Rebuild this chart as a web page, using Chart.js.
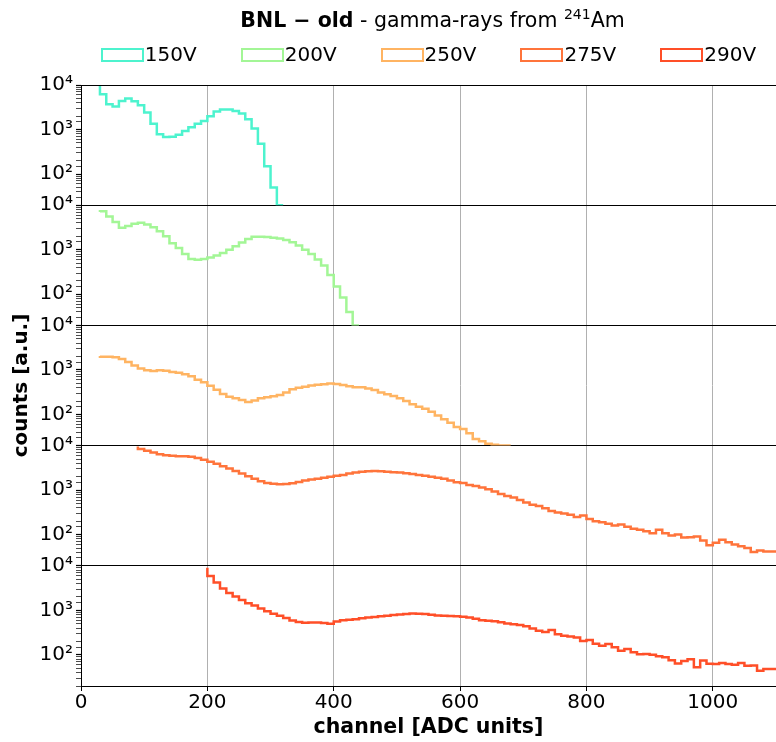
<!DOCTYPE html>
<html>
<head>
<meta charset="utf-8">
<script src="https://cdn.jsdelivr.net/npm/chart.js@4.4.1/dist/chart.umd.min.js"></script>
<style>
    body { margin: 0; background: #fff; }
    #wrap { position: relative; width: 776px; height: 742px; font-family: 'DejaVu Sans'; color: #000; }
    #histChart { display: block; }
    #title {
        position: absolute; top: 8px; left: 85px; width: 695px;
        text-align: center; font-size: 20.5px;
    }
    #title sup { font-size: 14px; line-height: 0; vertical-align: 8px; }
    #legend {
        position: absolute; top: 43px; left: 81px; width: 695px;
        display: flex; justify-content: center; gap: 44px; font-size: 20px;
    }
    #legend .item { display: flex; align-items: center; line-height: 23px; }
    #legend .swatch {
        box-sizing: border-box; width: 43px; height: 14px;
        border: 2.5px solid; margin-right: 1px;
    }
</style>
</head>
<body>
<div id="wrap">
    <div id="title"><b>BNL − old</b> - gamma-rays from <sup>241</sup>Am</div>
    <div id="legend"></div>
    <canvas id="histChart" width="776" height="742"></canvas>
</div>
<script>
// axis ranges
var binWidth = 10;
var xMin = 0, xMax = 1100;
var yMin = 20, yMax = 10000;
var xTicks = [0, 200, 400, 600, 800, 1000];
var yTickLabels = { 100: '10\u00b2', 1000: '10\u00b3', 10000: '10\u2074' };

var voltages = ['150V', '200V', '250V', '275V', '290V'];
var colors = ['rgb(77, 243, 206)', 'rgb(163, 246, 150)', 'rgb(255, 180, 98)', 'rgb(255, 116, 59)', 'rgb(255, 79, 40)'];

// spectra: first bin edge + counts per 10-channel bin
var start150 = 30;
var counts150 = [9500, 6200, 3700, 3300, 4400, 4950, 4300, 3500, 2400, 1350, 780, 680, 690, 760, 930, 1130,
    1350, 1550, 2000, 2550, 2800, 2800, 2600, 2300, 1700, 1050, 480, 150, 50];

var start200 = 30;
var counts200 = [7000, 7300, 5600, 4200, 3100, 3400, 3850, 4050, 3700, 3200, 2600, 2000, 1400, 1100, 800, 620,
    595, 620, 670, 740, 850, 1000, 1200, 1450, 1750, 1950, 1950, 1920, 1850, 1780, 1650, 1480, 1250, 1000,
    800, 600, 440, 270, 150, 85, 40];

var start250 = 30;
var counts250 = [2050, 1980, 1970, 1930, 1750, 1500, 1250, 1080, 990, 950, 980, 960, 900, 870, 800, 720,
    600, 530, 440, 360, 290, 250, 230, 210, 190, 205, 230, 245, 255, 275, 310, 370, 400, 420, 450, 465,
    480, 495, 485, 460, 430, 410, 410, 385, 355, 310, 285, 260, 230, 200, 170, 150, 135, 115, 95, 78,
    65, 52, 47, 38, 28, 25, 22, 21, 20];

var start275 = 90;
var counts275 = [9600, 8400, 7700, 7000, 6400, 6050, 5900, 5800, 5750, 5600,
    5300, 4800, 4350, 3900, 3450, 3050, 2700, 2350, 2050, 1800,
    1580, 1450, 1400, 1360, 1380, 1420, 1520, 1640, 1740, 1800,
    1900, 2000, 2100, 2200, 2350, 2500, 2600, 2650, 2680, 2650,
    2600, 2530, 2480, 2400, 2300, 2180, 2100, 2000, 1900, 1800,
    1650, 1500, 1450, 1300, 1240, 1150, 1050, 930, 820, 740,
    680, 600, 530, 470, 440, 390, 340, 315, 300, 280,
    250, 270, 225, 200, 190, 176, 161, 170, 150, 135,
    129, 120, 108, 129, 108, 96, 101, 86, 88, 91,
    74, 58, 66, 77, 68, 60, 55, 50, 41, 44, 42];

var start290 = 200;
var counts290 = [9000, 5900, 4200, 3100, 2450, 2050, 1700, 1450, 1280, 1100,
    950, 840, 760, 670, 590, 545, 525, 530, 535, 520,
    500, 560, 600, 615, 630, 660, 690, 710, 735, 760,
    790, 805, 830, 850, 835, 825, 800, 770, 760, 745,
    735, 720, 690, 650, 600, 585, 570, 540, 505, 485,
    470, 440, 390, 350, 325, 360, 290, 270, 257, 245,
    205, 215, 178, 161, 176, 148, 124, 136, 114, 103,
    105, 101, 93, 88, 76, 64, 73, 80, 53, 75,
    63, 62, 66, 62, 60, 66, 57, 58, 44, 48];

var starts = [start150, start200, start250, start275, start290];
var counts = [counts150, counts200, counts250, counts275, counts290];

// bin edges -> points for a stepped line, dropping to the floor if the spectrum ends inside the plot
function histPoints(start, values) {
    var pts = values.map(function (v, i) {
        return { x: start + i * binWidth, y: v };
    });
    var end = start + values.length * binWidth;
    pts.push({ x: end, y: end < xMax ? yMin : values[values.length - 1] });
    return pts;
}

function panelAxis(showTitle) {
    return {
        type: 'logarithmic',
        position: 'left',
        stack: 'panels',
        stackWeight: 1,
        min: yMin,
        max: yMax,
        border: { color: '#000', width: 1 },
        grid: {
            color: function (ctx) {
                return ctx.tick && ctx.tick.value === yMax ? '#000' : 'rgba(0,0,0,0)';
            },
            tickColor: '#000',
            tickLength: 5,
            tickWidth: function (ctx) {
                return ctx.tick && yTickLabels[ctx.tick.value] ? 1.2 : 0.7;
            }
        },
        ticks: {
            autoSkip: false,
            padding: 3,
            color: '#000',
            callback: function (value) {
                return yTickLabels[value] || '';
            }
        },
        title: {
            display: showTitle,
            text: 'counts [a.u.]',
            color: '#000',
            font: { weight: 'bold', size: 20 },
            padding: { top: 10, bottom: 0 }
        },
        afterFit: function (scale) {
            scale.width = 81;
        }
    };
}

// legend as html, built from the chart's own legend items
var htmlLegend = {
    id: 'htmlLegend',
    afterUpdate: function (chart) {
        var box = document.getElementById('legend');
        box.innerHTML = '';
        var items = chart.options.plugins.legend.labels.generateLabels(chart);
        items.forEach(function (item) {
            var el = document.createElement('div');
            el.className = 'item';
            var swatch = document.createElement('span');
            swatch.className = 'swatch';
            swatch.style.borderColor = item.strokeStyle;
            var text = document.createElement('span');
            text.textContent = item.text;
            el.appendChild(swatch);
            el.appendChild(text);
            box.appendChild(el);
        });
    }
};

document.addEventListener('DOMContentLoaded', function () {
    Chart.defaults.font.family = "'DejaVu Sans'";
    Chart.defaults.font.size = 20;
    Chart.defaults.color = '#000';

    var datasets = voltages.map(function (label, i) {
        return {
            label: label,
            data: histPoints(starts[i], counts[i]),
            yAxisID: 'y' + (i + 1),
            borderColor: colors[i],
            backgroundColor: 'rgba(0,0,0,0)',
            borderWidth: 2.5,
            pointRadius: 0,
            fill: false,
            stepped: 'after'
        };
    });

    var scales = {
        x: {
            type: 'linear',
            min: xMin,
            max: xMax,
            border: { color: '#000', width: 1 },
            grid: { color: '#b0b0b0', lineWidth: 1, tickColor: '#000', tickLength: 5 },
            ticks: {
                padding: 0,
                color: '#000',
                callback: function (value) { return String(value); }
            },
            afterBuildTicks: function (scale) {
                scale.ticks = xTicks.map(function (v) { return { value: v }; });
            },
            title: {
                display: true,
                text: 'channel [ADC units]',
                color: '#000',
                font: { weight: 'bold', size: 20.5 },
                padding: { top: 0, bottom: 2 }
            },
            afterFit: function (scale) {
                scale.height = 56;
            }
        }
    };
    // stacked axes: the last one added ends up on top
    for (var i = 5; i >= 1; i--) {
        scales['y' + i] = panelAxis(i === 3);
    }

    var ctx = document.getElementById('histChart').getContext('2d');
    new Chart(ctx, {
        type: 'line',
        data: { datasets: datasets },
        options: {
            responsive: false,
            animation: false,
            devicePixelRatio: 1,
            layout: { padding: { top: 85, right: 0, bottom: 0, left: 0 } },
            scales: scales,
            plugins: {
                legend: { display: false },
                tooltip: { enabled: false }
            }
        },
        plugins: [htmlLegend]
    });
});
</script>
</body>
</html>
